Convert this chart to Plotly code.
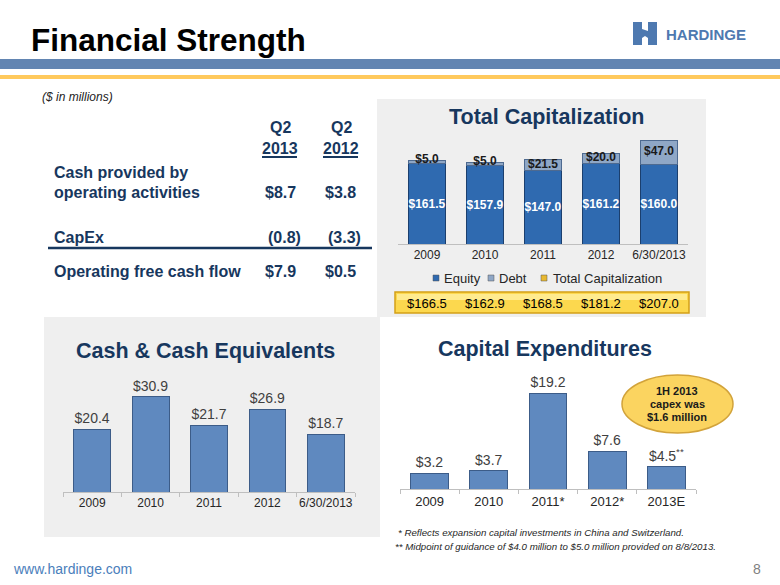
import plotly.graph_objects as go

# ---------------- data ----------------
cap_periods = ["2009", "2010", "2011", "2012", "6/30/2013"]
equity = [161.5, 157.9, 147.0, 161.2, 160.0]
debt = [5.0, 5.0, 21.5, 20.0, 47.0]

cash_periods = ["2009", "2010", "2011", "2012", "6/30/2013"]
cash = [20.4, 30.9, 21.7, 26.9, 18.7]

capex_periods = ["2009", "2010", "2011*", "2012*", "2013E"]
capex = [3.2, 3.7, 19.2, 7.6, 4.5]

table_rows = ["Cash provided by<br>operating activities", "CapEx", "Operating free cash flow"]
table_q2_2013 = ["$8.7", "(0.8)", "$7.9"]
table_q2_2012 = ["$3.8", "(3.3)", "$0.5"]

W, H = 780, 585
def X(px):
    return px / W
def Y(py):
    return 1 - py / H

NAVY = "#17375E"
FONT = "Liberation Sans, Arial, sans-serif"

fig = go.Figure()

# ---------------- Total Capitalization (stacked) ----------------
fig.add_trace(go.Bar(
    x=cap_periods, y=equity, xaxis="x", yaxis="y", width=0.63,
    marker=dict(color="#2F6AB0", line=dict(color="#1B3F6E", width=1)),
    text=[f"${v:.1f}" for v in equity], textposition="inside", textangle=0,
    insidetextanchor="middle", constraintext="none",
    textfont=dict(family=FONT, size=12, color="white", weight="bold"),
    showlegend=False, hoverinfo="skip"))
fig.add_trace(go.Bar(
    x=cap_periods, y=debt, xaxis="x", yaxis="y", width=0.63,
    marker=dict(color="#8FA7C6", line=dict(color="#4E6A90", width=1)),
    showlegend=False, hoverinfo="skip"))
fig.add_trace(go.Scatter(
    x=cap_periods, y=[e + max(d, 14) / 2 for e, d in zip(equity, debt)],
    xaxis="x", yaxis="y", mode="text",
    text=[f"${v:.1f}" for v in debt],
    textfont=dict(family=FONT, size=12, color="#1A1A1A", weight="bold"),
    showlegend=False, hoverinfo="skip", cliponaxis=False))

# ---------------- Cash & Cash Equivalents ----------------
fig.add_trace(go.Bar(
    x=cash_periods, y=cash, xaxis="x2", yaxis="y2", width=0.63,
    marker=dict(color="#5F89BF", line=dict(color="#3C5C88", width=1)),
    text=[f"${v:.1f}" for v in cash], textposition="outside", cliponaxis=False, textangle=0,
    textfont=dict(family=FONT, size=14, color="#404040"),
    showlegend=False, hoverinfo="skip"))

# ---------------- Capital Expenditures ----------------
capex_text = [f"${v:.1f}" for v in capex]
capex_text[-1] = capex_text[-1] + "<sup>**</sup>"
fig.add_trace(go.Bar(
    x=capex_periods, y=capex, xaxis="x3", yaxis="y3", width=0.64,
    marker=dict(color="#5F89BF", line=dict(color="#3C5C88", width=1)),
    text=capex_text, textposition="outside", cliponaxis=False, textangle=0,
    textfont=dict(family=FONT, size=14, color="#404040"),
    showlegend=False, hoverinfo="skip"))

axis_common = dict(type="category", showline=True, linecolor="#BFBFBF", linewidth=1,
                   showgrid=False, zeroline=False, fixedrange=True, tickangle=0)

fig.update_layout(
    width=W, height=H, autosize=False,
    margin=dict(l=0, r=0, t=0, b=0),
    paper_bgcolor="white", plot_bgcolor="rgba(0,0,0,0)",
    barmode="stack",
    font=dict(family=FONT),
    xaxis=dict(domain=[X(398), X(688)], anchor="y", ticks="", range=[-0.5, 4.5],
               tickfont=dict(family=FONT, size=12, color="#262626"), **axis_common),
    yaxis=dict(domain=[Y(244), Y(134)], range=[0, 220], visible=False, anchor="x", fixedrange=True),
    xaxis2=dict(domain=[X(63), X(355)], anchor="y2", ticks="outside", tickson="boundaries",
                ticklen=4, tickcolor="#BFBFBF", range=[-0.5, 4.5],
                tickfont=dict(family=FONT, size=12, color="#262626"), **axis_common),
    yaxis2=dict(domain=[Y(492), Y(382)], range=[0, 110 / 3.08], visible=False, anchor="x2", fixedrange=True),
    xaxis3=dict(domain=[X(400), X(696)], anchor="y3", ticks="outside", tickson="boundaries",
                ticklen=4, tickcolor="#BFBFBF", range=[-0.5, 4.5],
                tickfont=dict(family=FONT, size=13, color="#262626"), **axis_common),
    yaxis3=dict(domain=[Y(489), Y(379)], range=[0, 22], visible=False, anchor="x3", fixedrange=True),
)

shapes = []
# header bands
shapes.append(dict(type="rect", xref="paper", yref="paper", x0=0, x1=1, y0=Y(69), y1=Y(59),
                   fillcolor="#6285B2", line=dict(width=0), layer="below"))
shapes.append(dict(type="rect", xref="paper", yref="paper", x0=0, x1=1, y0=Y(79), y1=Y(75),
                   fillcolor="#FFC95C", line=dict(width=0), layer="below"))
# gray panels
shapes.append(dict(type="rect", xref="paper", yref="paper", x0=X(377), x1=X(706), y0=Y(317), y1=Y(99),
                   fillcolor="#EFEFEF", line=dict(width=0), layer="below"))
shapes.append(dict(type="rect", xref="paper", yref="paper", x0=X(44), x1=X(380), y0=Y(537), y1=Y(317),
                   fillcolor="#EFEFEF", line=dict(width=0), layer="below"))
# yellow total box
shapes.append(dict(type="rect", xref="paper", yref="paper", x0=X(395), x1=X(689), y0=Y(313), y1=Y(292),
                   fillcolor="#FCD84E", line=dict(color="#D4A017", width=1.5), layer="below"))
shapes.append(dict(type="rect", xref="paper", yref="paper", x0=X(397), x1=X(687), y0=Y(300), y1=Y(294),
                   fillcolor="#FFEB8F", line=dict(width=0), layer="below"))
# table lines
shapes.append(dict(type="line", xref="paper", yref="paper", x0=X(262), x1=X(297), y0=Y(157), y1=Y(157),
                   line=dict(color=NAVY, width=2)))
shapes.append(dict(type="line", xref="paper", yref="paper", x0=X(323), x1=X(358), y0=Y(157), y1=Y(157),
                   line=dict(color=NAVY, width=2)))
shapes.append(dict(type="line", xref="paper", yref="paper", x0=X(48), x1=X(372), y0=Y(248), y1=Y(248),
                   line=dict(color=NAVY, width=2.5)))
# ellipse callout
shapes.append(dict(type="circle", xref="paper", yref="paper", x0=X(622), x1=X(733), y0=Y(433), y1=Y(375),
                   fillcolor="#FBD460", line=dict(color="#D2A33A", width=1.5)))
# legend swatches
for x0, col in [(433, "#2F6AB0"), (488, "#8FA7C6"), (541, "#E8B830")]:
    shapes.append(dict(type="rect", xref="paper", yref="paper", x0=X(x0), x1=X(x0 + 6),
                       y0=Y(281), y1=Y(275), fillcolor=col, line=dict(color="#555555", width=0.5)))
# logo icon
shapes.append(dict(type="rect", xref="paper", yref="paper", x0=X(633), x1=X(657), y0=Y(45), y1=Y(22),
                   fillcolor="#4E79B0", line=dict(width=0)))
shapes.append(dict(type="path", xref="paper", yref="paper",
                   path=f"M {X(642)},{Y(22)} L {X(648)},{Y(22)} L {X(648)},{Y(31)} L {X(642)},{Y(29)} Z",
                   fillcolor="white", line=dict(width=0)))
shapes.append(dict(type="path", xref="paper", yref="paper",
                   path=f"M {X(642)},{Y(45)} L {X(648)},{Y(45)} L {X(648)},{Y(38)} L {X(645)},{Y(36)} L {X(642)},{Y(38)} Z",
                   fillcolor="white", line=dict(width=0)))
fig.update_layout(shapes=shapes)

ann = []
def text(px, py, s, size, color="#000000", bold=False, italic=False, xanchor="left", **kw):
    if bold:
        s = f"<b>{s}</b>"
    if italic:
        s = f"<i>{s}</i>"
    ann.append(dict(xref="paper", yref="paper", x=X(px), y=Y(py), text=s, showarrow=False,
                    xanchor=xanchor, yanchor="middle",
                    font=dict(family=FONT, size=size, color=color), **kw))

text(29, 40, "Financial Strength", 31.5, "#000000", bold=True)
text(664, 34, "HARDINGE", 15, "#4E79B0", bold=True)
text(40, 97, "($ in millions)", 12, "#222222", italic=True)

# table
text(280, 127, "Q2", 16, NAVY, bold=True, xanchor="center")
text(280, 148, "2013", 16, NAVY, bold=True, xanchor="center")
text(341, 127, "Q2", 16, NAVY, bold=True, xanchor="center")
text(341, 148, "2012", 16, NAVY, bold=True, xanchor="center")
row_y = [193, 237, 271]
text(52, 172, table_rows[0].split("<br>")[0], 16, NAVY, bold=True)
text(52, 193, table_rows[0].split("<br>")[1], 16, NAVY, bold=True)
text(52, 237, table_rows[1], 16, NAVY, bold=True)
text(52, 271, table_rows[2], 16, NAVY, bold=True)
for yy, a, b in zip(row_y, table_q2_2013, table_q2_2012):
    off = 4 if a.startswith("(") else 0
    text(280 + off, yy, a, 16, NAVY, bold=True, xanchor="center")
    text(340 + off, yy, b, 16, NAVY, bold=True, xanchor="center")

# chart titles
text(547, 117, "Total Capitalization", 21.5, NAVY, bold=True, xanchor="center")
text(205, 351, "Cash &amp; Cash Equivalents", 21.5, NAVY, bold=True, xanchor="center")
text(545, 349, "Capital Expenditures", 21.5, NAVY, bold=True, xanchor="center")

# legend labels
text(442, 278, "Equity", 13, "#262626")
text(497, 278, "Debt", 13, "#262626")
text(551, 278, "Total Capitalization", 13, "#262626")

# totals in yellow box (category index positions on the x axis)
totals = [round(e + d, 1) for e, d in zip(equity, debt)]
for i, t in enumerate(totals):
    ann.append(dict(xref="x", yref="paper", x=i, y=Y(303), text=f"${t:.1f}", showarrow=False,
                    xanchor="center", yanchor="middle",
                    font=dict(family=FONT, size=13, color="#000000")))

# callout text
text(677, 391, "1H 2013", 11, "#1A1A1A", bold=True, xanchor="center")
text(677, 404, "capex was", 11, "#1A1A1A", bold=True, xanchor="center")
text(677, 417, "$1.6 million", 11, "#1A1A1A", bold=True, xanchor="center")

# footnotes
text(396, 532, "* Reflects expansion capital investments in China and Switzerland.", 9.7, "#262626", italic=True)
text(393, 546, "** Midpoint of guidance of $4.0 million to $5.0 million provided on 8/8/2013.", 9.7, "#262626", italic=True)

# footer
text(11, 569, "www.hardinge.com", 14, "#4A7EBB")
text(757, 569, "8", 14, "#7F7F7F", xanchor="center")

fig.update_layout(annotations=ann)
fig.write_html("out.html", config={"displayModeBar": False},
               post_script="document.body.style.margin='0px';")
